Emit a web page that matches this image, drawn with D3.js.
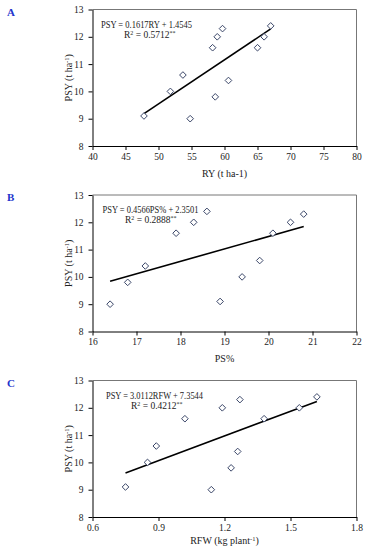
<!DOCTYPE html>
<html>
<head>
<meta charset="utf-8">
<script src="https://cdn.jsdelivr.net/npm/d3@7"></script>
<style>
  body { margin: 0; background: #fff; }
  svg { font-family: "Liberation Serif", "Times New Roman", serif; }
  .tick text { font-size: 9.5px; fill: #222; font-family: "Liberation Serif", "Times New Roman", serif; }
</style>
</head>
<body>
<svg id="chart" width="372" height="550"></svg>
<script>
// PSY (t/ha) shared by all three panels
var psyA = [9.1, 10.0, 10.6, 9.0, 11.6, 9.8, 12.0, 12.3, 10.4, 11.6, 12.0, 12.4];
var ry   = [47.8, 51.8, 53.7, 54.8, 58.2, 58.6, 58.9, 59.7, 60.6, 65.0, 66.0, 67.0];

var psyB = [9.0, 9.8, 10.4, 11.6, 12.0, 12.4, 9.1, 10.0, 10.6, 11.6, 12.0, 12.3];
var ps   = [16.4, 16.8, 17.2, 17.9, 18.3, 18.6, 18.9, 19.4, 19.8, 20.1, 20.5, 20.8];

var psyC = [9.1, 10.0, 10.6, 11.6, 9.0, 12.0, 9.8, 10.4, 12.3, 11.6, 12.0, 12.4];
var rfw  = [0.75, 0.85, 0.89, 1.02, 1.14, 1.19, 1.23, 1.26, 1.27, 1.38, 1.54, 1.62];

var xTicksA = [40, 45, 50, 55, 60, 65, 70, 75, 80];
var xTicksB = [16, 17, 18, 19, 20, 21, 22];
var xTicksC = [0.6, 0.9, 1.2, 1.5, 1.8];
var yTicks = [8, 9, 10, 11, 12, 13];

var panels = [
  {label: "A", top: 9.5, xs: ry, ys: psyA, ticks: xTicksA, fmt: d3.format("d"),
   slope: 0.1617, icpt: 1.4545, eq: "PSY = 0.1617RY + 1.4545", r2: "0.5712",
   xtitle: "RY (t ha-1)", eqx: 101, eqw: 91, r2x: 124},
  {label: "B", top: 195, xs: ps, ys: psyB, ticks: xTicksB, fmt: d3.format("d"),
   slope: 0.4566, icpt: 2.3501, eq: "PSY = 0.4566PS% + 2.3501", r2: "0.2888",
   xtitle: "PS%", eqx: 102.5, eqw: 96, r2x: 125},
  {label: "C", top: 380.5, xs: rfw, ys: psyC, ticks: xTicksC, fmt: d3.format(".1f"),
   slope: 3.0112, icpt: 7.3544, eq: "PSY = 3.0112RFW + 7.3544", r2: "0.4212",
   xtitle: "RFW (kg plant-1)", eqx: 106, eqw: 97, r2x: 131}
];

var svg = d3.select("#chart");
var left = 92.5, right = 356.5, h = 136.5;

panels.forEach(function(p, i){
  var g = svg.append("g").attr("transform", "translate(0," + p.top + ")");
  var x = d3.scaleLinear().domain(d3.extent(p.ticks)).range([left, right]);
  var y = d3.scaleLinear().domain([8, 13]).range([h, 0]);

  g.append("text")
    .attr("x", 7).attr("y", 6)
    .attr("font-size", 11).attr("font-weight", "bold")
    .attr("fill", "#2233cc")
    .text(p.label);

  // box top/right
  g.append("path")
    .attr("d", "M" + left + ",0H" + right + "V" + h)
    .attr("fill", "none").attr("stroke", "#777").attr("stroke-width", 1);

  g.append("g").attr("transform", "translate(0," + h + ")")
    .call(d3.axisBottom(x).tickValues(p.ticks).tickFormat(p.fmt).tickSize(4).tickSizeOuter(0))
    .attr("font-family", null)
    .call(a => a.select(".domain").attr("stroke", "#000"));
  g.append("g").attr("transform", "translate(" + left + ",0)")
    .call(d3.axisLeft(y).tickValues(yTicks).tickFormat(d3.format("d")).tickSize(4).tickSizeOuter(0).tickPadding(5))
    .attr("font-family", null)
    .call(a => a.select(".domain").attr("stroke", "#000"));

  // trend line
  var xr = d3.extent(p.xs);
  g.append("line")
    .attr("x1", x(xr[0])).attr("y1", y(p.slope * xr[0] + p.icpt))
    .attr("x2", x(xr[1])).attr("y2", y(p.slope * xr[1] + p.icpt))
    .attr("stroke", "#000").attr("stroke-width", 1.6);

  var pts = p.xs.map((v, k) => [v, p.ys[k]]);
  g.selectAll("path.pt").data(pts).enter().append("path")
    .attr("class", "pt")
    .attr("d", d3.symbol(d3.symbolDiamond2, 28))
    .attr("transform", d => "translate(" + x(d[0]) + "," + y(d[1]) + ")")
    .attr("fill", "#fff").attr("stroke", "#3a4668").attr("stroke-width", 1);

  g.append("text").attr("font-size", 9.5).attr("fill", "#222")
    .attr("x", p.eqx).attr("y", 18)
    .attr("textLength", p.eqw).attr("lengthAdjust", "spacingAndGlyphs")
    .text(p.eq);
  var r = g.append("text").attr("font-size", 9.5).attr("fill", "#222")
    .attr("x", p.r2x).attr("y", 28);
  r.append("tspan").text("R");
  r.append("tspan").attr("font-size", 6).attr("dy", -3).text("2");
  r.append("tspan").attr("dy", 3).text(" = " + p.r2);
  r.append("tspan").attr("font-size", 6).attr("dy", -3).text("**");

  var xt = g.append("text").attr("font-size", 10).attr("fill", "#222")
    .attr("text-anchor", "middle").attr("x", (left + right) / 2)
    .attr("y", i == 2 ? 163 : 167);
  if (i == 2){
    xt.append("tspan").text("RFW (kg plant");
    xt.append("tspan").attr("font-size", 6.5).attr("dy", -3).text("-1");
    xt.append("tspan").attr("dy", 3).text(")");
  } else {
    xt.text(p.xtitle);
  }

  var yt = g.append("text").attr("font-size", 10).attr("fill", "#222")
    .attr("text-anchor", "middle")
    .attr("transform", "translate(72," + (h / 2) + ") rotate(-90)");
  yt.append("tspan").text("PSY (t ha");
  yt.append("tspan").attr("font-size", 6.5).attr("dy", -3).text("-1");
  yt.append("tspan").attr("dy", 3).text(")");
});
</script>
</body>
</html>
